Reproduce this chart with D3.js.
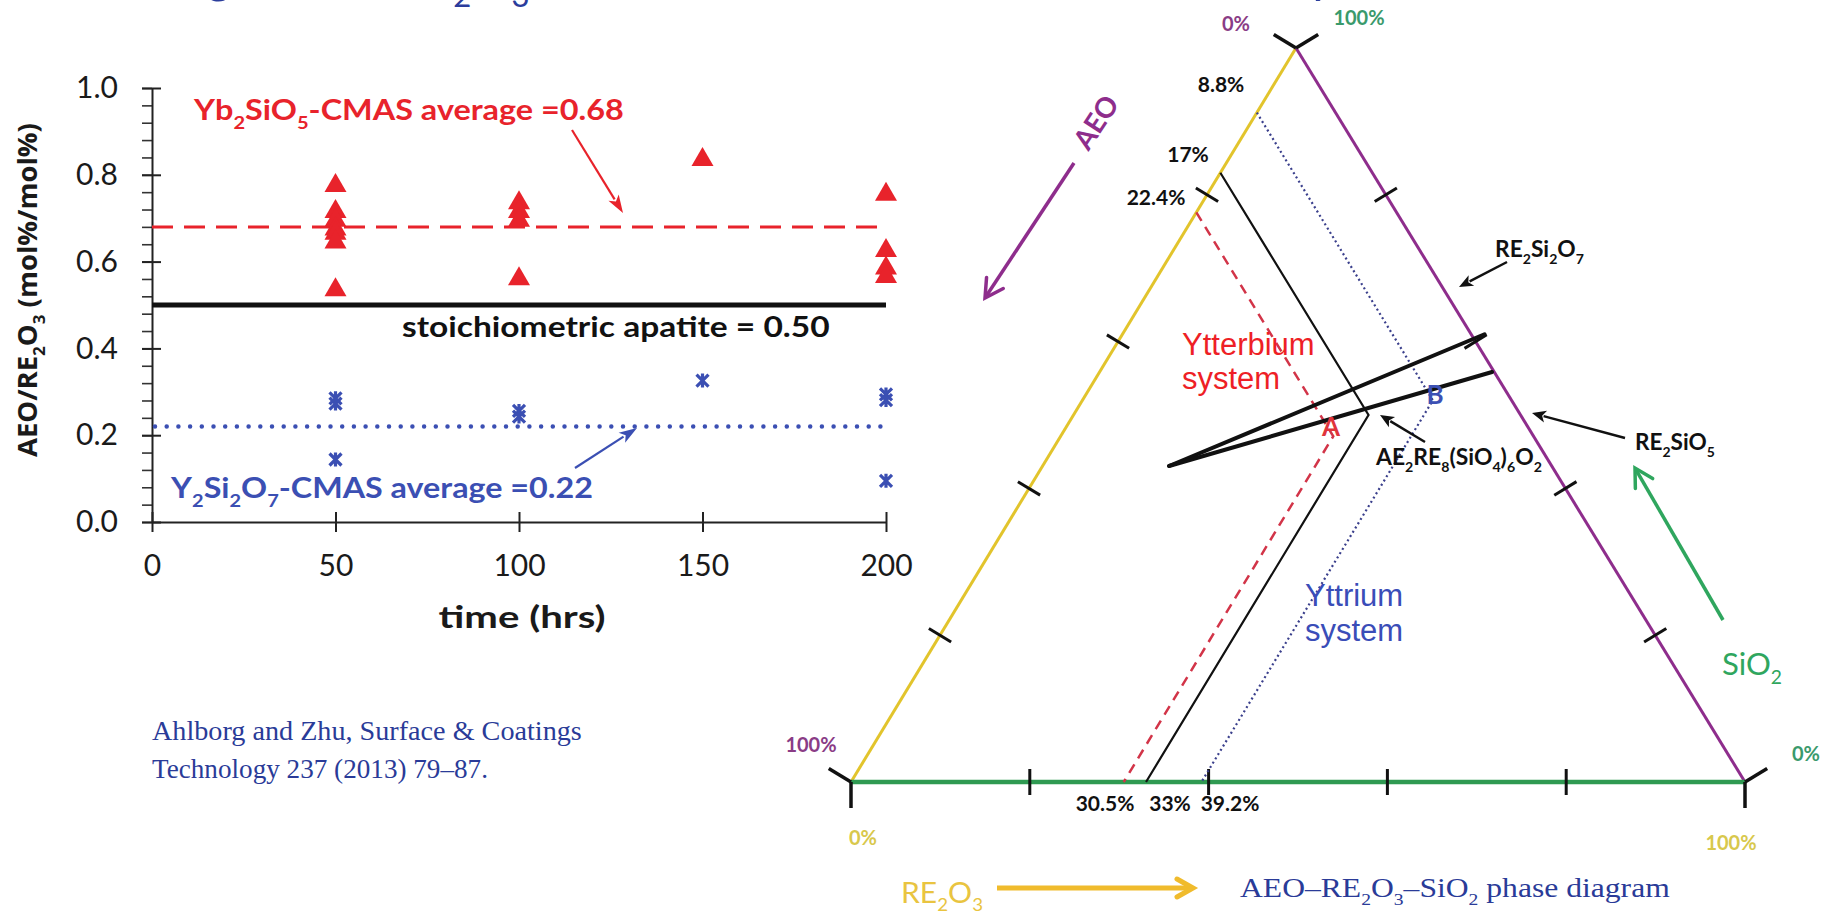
<!DOCTYPE html>
<html>
<head>
<meta charset="utf-8">
<script src="https://cdn.jsdelivr.net/npm/d3@7"></script>
<style>
  html, body { margin: 0; padding: 0; background: #fff; overflow: hidden; }
  svg { display: block; }
</style>
</head>
<body>
<svg id="chart" width="1837" height="917"></svg>
<script>
// ---------- AEO/RE2O3 ratio after CMAS exposure ----------
const ybTimes  = [50, 50, 50, 50, 50, 50, 50, 100, 100, 100, 100, 150, 200, 200, 200, 200];
const ybRatios = [0.78, 0.72, 0.70, 0.68, 0.67, 0.65, 0.54, 0.74, 0.72, 0.70, 0.565, 0.84, 0.76, 0.63, 0.59, 0.57];
const yTimes   = [50, 50, 50, 100, 100, 150, 200, 200, 200];
const yRatios  = [0.285, 0.273, 0.144, 0.256, 0.243, 0.326, 0.294, 0.281, 0.095];
const ybAverage = 0.68;
const yAverage = 0.22;
const apatiteRatio = 0.50;
const timeTicks = [0, 50, 100, 150, 200];
const ratioTicks = [0, 0.2, 0.4, 0.6, 0.8, 1.0];
const ratioMinorTicks = d3.range(0, 1.0001, 0.04);

// ---------- AEO–RE2O3–SiO2 diagram (mole fractions) ----------
const edgeTicks = [0.2, 0.4, 0.6, 0.8];
const systemNames = ["Ytterbium", "apatite", "Yttrium"];
const systemAEO = [0.224, 0.17, 0.088];   // on the AEO–SiO2 side
const systemRE  = [0.305, 0.33, 0.392];   // on the AEO–RE2O3 side
const aeoLabels = ["22.4%", "17%", "8.8%"];
const reLabels  = ["30.5%", "33%", "39.2%"];
const tieApex = { re: 0.1415, si: 0.4305 };
const tieEnds = [{ re: 0.405, si: 0.61 }, { re: 0.439, si: 0.5586 }];

const svg = d3.select("#chart");
svg.append("rect").attr("width", 1837).attr("height", 917).attr("fill", "#fff");

// text with subscripts; optionally squeezed to a target width
function rich(parent, parts, o) {
  const g = parent.append("g");
  const t = g.append("text")
    .attr("font-family", o.family || "Lato")
    .attr("font-size", o.size)
    .attr("font-weight", o.weight || 400)
    .attr("fill", o.fill || "#000");
  let shift = 0;
  parts.forEach(p => {
    const s = typeof p === "string" ? p : p[0];
    const sub = typeof p === "string" ? false : !!p[1];
    const target = sub ? o.size * 0.3 : 0;
    const ts = t.append("tspan").text(s).attr("dy", target - shift);
    if (sub) ts.attr("font-size", o.size * 0.62);
    shift = target;
  });
  const bb = t.node().getBBox();
  const w = bb.width;
  const k = o.width ? o.width / w : 1;
  const anchor = o.anchor || "start";
  const off = bb.x + (anchor === "middle" ? w / 2 : anchor === "end" ? w : 0);
  t.attr("transform", `scale(${k},1) translate(${-off},0)`);
  g.attr("transform", `translate(${o.x},${o.y}) rotate(${o.rotate || 0})`);
  return g;
}

function arrow(parent, x1, y1, x2, y2, o) {
  const color = o.color, sw = o.width || 2;
  const len = o.head || 16, hw = o.headW || 7;
  const ang = Math.atan2(y2 - y1, x2 - x1);
  const ux = Math.cos(ang), uy = Math.sin(ang);
  const bx = x2 - ux * len, by = y2 - uy * len;
  const px = -uy * hw, py = ux * hw;
  if (o.open) {
    parent.append("line").attr("x1", x1).attr("y1", y1).attr("x2", x2 - ux * sw * 0.5).attr("y2", y2 - uy * sw * 0.5)
      .attr("stroke", color).attr("stroke-width", sw);
    parent.append("path")
      .attr("d", `M${bx + px},${by + py}L${x2},${y2}L${bx - px},${by - py}`)
      .attr("fill", "none").attr("stroke", color).attr("stroke-width", sw)
      .attr("stroke-linejoin", "miter").attr("stroke-linecap", "round");
  } else {
    parent.append("line").attr("x1", x1).attr("y1", y1).attr("x2", bx + ux * 2).attr("y2", by + uy * 2)
      .attr("stroke", color).attr("stroke-width", sw);
    parent.append("path")
      .attr("d", `M${x2},${y2}L${bx + px},${by + py}L${bx + ux * len * 0.25},${by + uy * len * 0.25}L${bx - px},${by - py}Z`)
      .attr("fill", color);
  }
}

// ---------- slide heading (runs off the top edge) ----------
rich(svg, ["Average AEO/RE", ["2", 1], "O", ["3", 1], " ratio in the Ytterbium and Yttrium systems"],
  { x: 80, y: -8, size: 50, fill: "#2b3d9c" });

// ================= left: ratio vs time =================
const x = d3.scaleLinear().domain([0, 200]).range([152, 886]);
const y = d3.scaleLinear().domain([0, 1]).range([522, 88]);
const plot = svg.append("g");

// y axis with minor ticks
const yMinor = plot.append("g").attr("transform", `translate(${x(0)},0)`)
  .call(d3.axisLeft(y).tickValues(ratioMinorTicks).tickSize(10).tickFormat(""));
yMinor.select(".domain").remove();
yMinor.selectAll(".tick line").attr("stroke", "#333").attr("stroke-width", 1.6);

const yAxis = plot.append("g").attr("transform", `translate(${x(0)},0)`)
  .call(d3.axisLeft(y).tickValues(ratioTicks).tickSizeInner(10).tickSizeOuter(0).tickPadding(24)
    .tickFormat(d3.format(".1f")));
yAxis.select(".domain").attr("stroke", "#222").attr("stroke-width", 2);
yAxis.selectAll(".tick line").attr("x2", 9).attr("x1", -10).attr("stroke", "#222").attr("stroke-width", 2);
yAxis.selectAll(".tick text").attr("font-family", "Lato").attr("font-size", 30).attr("fill", "#1a1a1a");

const xAxis = plot.append("g").attr("transform", `translate(0,${y(0)})`)
  .call(d3.axisBottom(x).tickValues(timeTicks).tickSizeInner(10).tickSizeOuter(0).tickPadding(23));
xAxis.select(".domain").attr("stroke", "#222").attr("stroke-width", 2);
xAxis.selectAll(".tick line").attr("y1", -10).attr("y2", 10).attr("stroke", "#222").attr("stroke-width", 2);
xAxis.selectAll(".tick text").attr("font-family", "Lato").attr("font-size", 30).attr("fill", "#1a1a1a");

// axis titles
rich(svg, ["AEO/RE", ["2", 1], "O", ["3", 1], " (mol%/mol%)"],
  { x: 37, y: 290, size: 27, family: "Open Sans", weight: 700, fill: "#1a1a1a", anchor: "middle", rotate: -90, width: 334 });
rich(svg, ["time (hrs)"], { x: 522, y: 628, size: 31, weight: 700, fill: "#1a1a1a", anchor: "middle", width: 167 });

// reference lines
plot.append("line").attr("x1", x(0)).attr("x2", x(200)).attr("y1", y(apatiteRatio)).attr("y2", y(apatiteRatio))
  .attr("stroke", "#111").attr("stroke-width", 5);
plot.append("line").attr("x1", x(0)).attr("x2", x(200)).attr("y1", y(ybAverage)).attr("y2", y(ybAverage))
  .attr("stroke", "#e8232b").attr("stroke-width", 3).attr("stroke-dasharray", "21,11");
plot.append("line").attr("x1", x(0) + 3).attr("x2", x(200)).attr("y1", y(yAverage)).attr("y2", y(yAverage))
  .attr("stroke", "#3b4fb3").attr("stroke-width", 4.5).attr("stroke-linecap", "round")
  .attr("stroke-dasharray", "0,11.7");

// Yb2SiO5 points: triangles
plot.selectAll("path.yb").data(ybTimes).join("path").attr("class", "yb")
  .attr("d", (t, i) => {
    const cx = x(t), cy = y(ybRatios[i]);
    return `M${cx},${cy - 10.5}L${cx + 11},${cy + 8.5}L${cx - 11},${cy + 8.5}Z`;
  })
  .attr("fill", "#e8232b");

// Y2Si2O7 points: star markers
plot.selectAll("path.y").data(yTimes).join("path").attr("class", "y")
  .attr("d", (t, i) => {
    const cx = x(t), cy = y(yRatios[i]);
    return `M${cx - 6},${cy - 6}L${cx + 6},${cy + 6}M${cx - 6},${cy + 6}L${cx + 6},${cy - 6}M${cx},${cy - 7}L${cx},${cy + 7}`;
  })
  .attr("stroke", "#3b4fb3").attr("stroke-width", 3.2).attr("fill", "none");

// annotations
rich(svg, ["Yb", ["2", 1], "SiO", ["5", 1], "-CMAS average =0.68"],
  { x: 193, y: 120, size: 29, weight: 700, fill: "#e8232b", width: 431 });
arrow(svg, 572, 130, 623, 213, { color: "#e8232b", width: 2.2, head: 18, headW: 6 });
rich(svg, ["stoichiometric apatite = 0.50"],
  { x: 402, y: 337, size: 29, weight: 700, fill: "#111", width: 428 });
rich(svg, ["Y", ["2", 1], "Si", ["2", 1], "O", ["7", 1], "-CMAS average =0.22"],
  { x: 170, y: 498, size: 29, weight: 700, fill: "#3b4fb3", width: 423 });
arrow(svg, 575, 468, 637, 428, { color: "#3b4fb3", width: 2.2, head: 18, headW: 6 });

// citation
const cite = { size: 28, family: "Liberation Serif", fill: "#2a3b98" };
rich(svg, ["Ahlborg and Zhu, Surface & Coatings"], { ...cite, x: 152, y: 740, width: 430 });
rich(svg, ["Technology 237 (2013) 79–87."], { ...cite, x: 152, y: 778, width: 336 });

// ================= right: ternary diagram =================
const reX = d3.scaleLinear().domain([0, 1]).range([851, 1745]);
const siX = d3.scaleLinear().domain([0, 1]).range([0, 445]);
const siY = d3.scaleLinear().domain([0, 1]).range([782, 48]);
const P = (re, si) => [reX(re) + siX(si), siY(si)];
const tern = svg.append("g");

const vAEO = P(0, 0), vRE = P(1, 0), vSi = P(0, 1);
const edges = [
  { a: vAEO, b: vSi, color: "#e2c42c", w: 3 },    // AEO–SiO2
  { a: vSi, b: vRE, color: "#8e2d8c", w: 3 },     // SiO2–RE2O3
  { a: vAEO, b: vRE, color: "#2f9a52", w: 4.5 }   // AEO–RE2O3
];
edges.forEach(e => {
  tern.append("line").attr("x1", e.a[0]).attr("y1", e.a[1]).attr("x2", e.b[0]).attr("y2", e.b[1])
    .attr("stroke", e.color).attr("stroke-width", e.w);
});

// ticks on each edge: outward normal for every edge
const centroid = [(vAEO[0] + vRE[0] + vSi[0]) / 3, (vAEO[1] + vRE[1] + vSi[1]) / 3];
edges.forEach(e => {
  const dx = e.b[0] - e.a[0], dy = e.b[1] - e.a[1], L = Math.hypot(dx, dy);
  let nx = -dy / L, ny = dx / L;
  const mx = (e.a[0] + e.b[0]) / 2, my = (e.a[1] + e.b[1]) / 2;
  if ((mx + nx - centroid[0]) ** 2 + (my + ny - centroid[1]) ** 2 < (mx - centroid[0]) ** 2 + (my - centroid[1]) ** 2) {
    nx = -nx; ny = -ny;
  }
  edgeTicks.forEach(f => {
    const px = e.a[0] + dx * f, py = e.a[1] + dy * f;
    tern.append("line").attr("x1", px - nx * 13).attr("y1", py - ny * 13)
      .attr("x2", px + nx * 13).attr("y2", py + ny * 13)
      .attr("stroke", "#111").attr("stroke-width", 3);
  });
  [e.a, e.b].forEach(v => {
    tern.append("line").attr("x1", v[0]).attr("y1", v[1])
      .attr("x2", v[0] + nx * 26).attr("y2", v[1] + ny * 26)
      .attr("stroke", "#111").attr("stroke-width", 3.5);
  });
});

// join lines of each system
const styles = [
  { color: "#d23448", w: 2.5, dash: "10,7" },
  { color: "#111", w: 2.2, dash: null },
  { color: "#3a3f8c", w: 2.2, dash: "2,3" }
];
systemNames.forEach((n, i) => {
  const a = systemAEO[i], re = systemRE[i];
  const pts = [P(0, 1 - a), P(re, 1 - a - re), P(re, 0)];
  const path = tern.append("path").attr("d", d3.line()(pts))
    .attr("fill", "none").attr("stroke", styles[i].color).attr("stroke-width", styles[i].w);
  if (styles[i].dash) path.attr("stroke-dasharray", styles[i].dash);
});

// apatite tie lines
tieEnds.forEach(e => {
  tern.append("path").attr("d", d3.line()([P(tieApex.re, tieApex.si), P(e.re, e.si)]))
    .attr("stroke", "#111").attr("stroke-width", 4).attr("fill", "none").attr("stroke-linecap", "round");
});

// composition labels
const pctStyle = { size: 21, weight: 700, fill: "#111", anchor: "middle" };
const aeoPos = [[1156, 205], [1188, 162], [1221, 92]];
aeoLabels.forEach((s, i) => rich(svg, [s], { ...pctStyle, x: aeoPos[i][0], y: aeoPos[i][1] }));
const rePos = [1105, 1170, 1230];
reLabels.forEach((s, i) => rich(svg, [s], { ...pctStyle, x: rePos[i], y: 811 }));

rich(svg, ["A"], { x: 1331, y: 436, size: 26, weight: 700, fill: "#e0343c", anchor: "middle" });
rich(svg, ["B"], { x: 1435, y: 404, size: 26, weight: 700, fill: "#3c50b4", anchor: "middle" });

// corner percentages
const corner = (s, cx, cy, fill) => rich(svg, [s], { x: cx, y: cy + 7, size: 20, weight: 700, fill, anchor: "middle" });
corner("0%", 1236, 24, "#8a3c86");
corner("100%", 1359, 18, "#3a9a6c");
corner("100%", 811, 745, "#8a3c86");
corner("0%", 1806, 754, "#3a9a6c");
corner("0%", 863, 838, "#d8c84c");
corner("100%", 1731, 843, "#d8c84c");

// phase labels with arrows
rich(svg, ["RE", ["2", 1], "Si", ["2", 1], "O", ["7", 1]], { x: 1495, y: 257, size: 22, weight: 700, fill: "#111", width: 89 });
arrow(svg, 1507, 262, 1459, 287, { color: "#111", width: 2.5, head: 14, headW: 6 });
rich(svg, ["RE", ["2", 1], "SiO", ["5", 1]], { x: 1635, y: 450, size: 22, weight: 700, fill: "#111", width: 80 });
arrow(svg, 1625, 438, 1532, 413, { color: "#111", width: 2.5, head: 14, headW: 6 });
rich(svg, ["AE", ["2", 1], "RE", ["8", 1], "(SiO", ["4", 1], ")", ["6", 1], "O", ["2", 1]],
  { x: 1375, y: 465, size: 22, weight: 700, fill: "#111", width: 167 });
arrow(svg, 1425, 442, 1380, 415, { color: "#111", width: 2.5, head: 14, headW: 6 });

// component arrows
arrow(svg, 1074, 163, 985, 298, { color: "#8e2d8c", width: 3.5, head: 18, headW: 10, open: true });
rich(svg, ["AEO"], { x: 1104, y: 128, size: 28, weight: 700, fill: "#8e2d8c", anchor: "middle", rotate: -56.6 });
arrow(svg, 1723, 620, 1635, 468, { color: "#2fa65e", width: 3.5, head: 18, headW: 10, open: true });
rich(svg, ["SiO", ["2", 1]], { x: 1722, y: 675, size: 30, weight: 400, fill: "#2fa65e", width: 60 });
arrow(svg, 997, 888, 1193, 888, { color: "#f0bb2c", width: 5, head: 16, headW: 9, open: true });
rich(svg, ["RE", ["2", 1], "O", ["3", 1]], { x: 901, y: 903, size: 28, weight: 400, fill: "#e9c440", width: 82 });

// system names
const sysFont = { size: 31, family: "Liberation Sans" };
rich(svg, ["Ytterbium"], { ...sysFont, x: 1182, y: 355, fill: "#ee1f26" });
rich(svg, ["system"], { ...sysFont, x: 1182, y: 389, fill: "#ee1f26" });
rich(svg, ["Yttrium"], { ...sysFont, x: 1305, y: 606, fill: "#3a4db8" });
rich(svg, ["system"], { ...sysFont, x: 1305, y: 641, fill: "#3a4db8" });

// caption
rich(svg, ["AEO–RE", ["2", 1], "O", ["3", 1], "–SiO", ["2", 1], " phase diagram"],
  { size: 27, family: "Liberation Serif", fill: "#2a3b98", x: 1240, y: 897, width: 430 });
</script>
</body>
</html>
